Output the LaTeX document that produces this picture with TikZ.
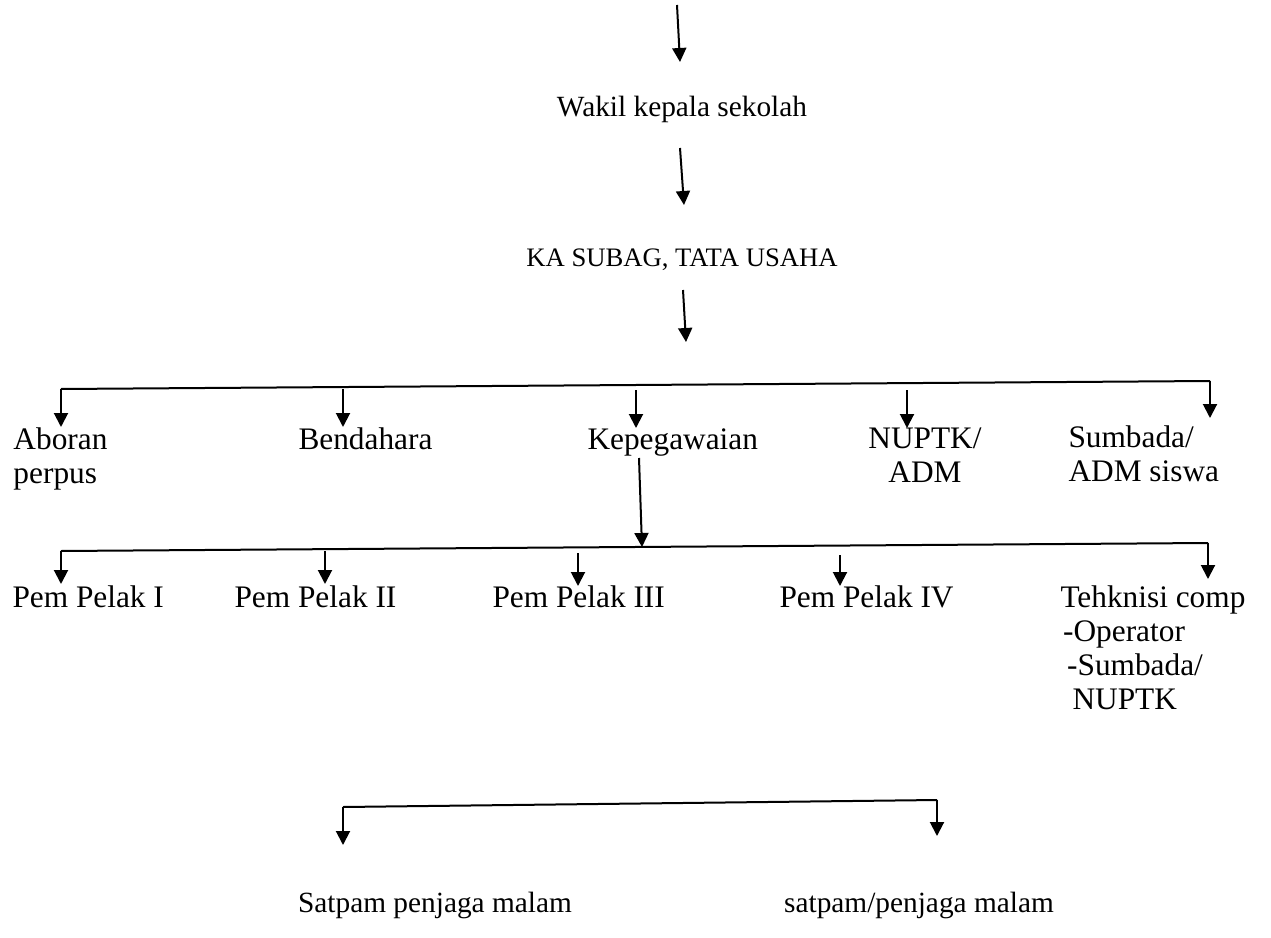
\documentclass[tikz,border=0pt]{standalone}
\usepackage{fontspec}
\setmainfont{Liberation Serif}
\usetikzlibrary{arrows.meta}

\tikzset{every picture/.style={line width=0.75pt}}
\tikzset{
  lbl/.style={anchor=base west, inner sep=0pt, align=left, font=\fontsize{#1}{25.5}\selectfont},
  lbl/.default=23.5,
  conn/.style={line width=1.5pt},
  arr/.style={conn, -{Triangle[length=10.5pt,width=10.5pt]}}
}

\begin{document}
\begin{tikzpicture}[x=0.75pt,y=0.75pt,yscale=-1,xscale=1]
\useasboundingbox (0,0) rectangle (1271,938);

% Text Node
\node[lbl=22, anchor=base] (wakil) at (682,117) {Wakil kepala sekolah};
% Text Node
\node[lbl=20, anchor=base] (kasubag) at (682,267) {KA SUBAG, TATA USAHA};
% Text Node
\node[lbl] (aboran) at (13,483) {Aboran\\perpus};
\node[lbl] (bendahara) at (298,449) {Bendahara};
\node[lbl] (kepeg) at (587,449) {Kepegawaian};
\node[lbl, align=center, anchor=base] (nuptk) at (925,482) {NUPTK/\\ADM};
\node[lbl] (sumbada) at (1068,481) {Sumbada/\\ADM siswa};
% Text Node
\node[lbl] (pem1) at (12,607) {Pem Pelak I};
\node[lbl] (pem2) at (234,607) {Pem Pelak II};
\node[lbl] (pem3) at (492,607) {Pem Pelak III};
\node[lbl] (pem4) at (779,607) {Pem Pelak IV};
\node[lbl] (tek) at (1060,709) {Tehknisi comp\\\hspace*{2pt}-Operator\\\hspace*{5pt}-Sumbada/\\\hspace*{9pt}NUPTK};
% Text Node
\node[lbl=22, anchor=base] (satpam1) at (435,912) {Satpam penjaga malam};
\node[lbl=22, anchor=base] (satpam2) at (919,912) {satpam/penjaga malam};

%Straight Lines - top
\coordinate (s0) at (677,5);    \coordinate (t0) at (680,62);
\coordinate (s1) at (680,148);  \coordinate (t1) at (684,205);
\coordinate (s2) at (683,290);  \coordinate (t2) at (686,342);
\draw[arr] (s0) -- (t0);
\draw[arr] (s1) -- (t1);
\draw[arr] (s2) -- (t2);

%Straight Lines - first bar
\coordinate (b1L) at (61,389);  \coordinate (b1R) at (1210,381);
\coordinate (b1La) at (61,427); \coordinate (b1Ra) at (1210,418);
\draw[conn] (b1L) -- (b1R);
\draw[arr] (b1L) -- (b1La);
\draw[arr] (b1R) -- (b1Ra);
\foreach \n/\x/\ya/\yb in {bend/343/389/427, kep/636/390/428, nup/907/390/428}
  {\coordinate (\n-s) at (\x,\ya); \coordinate (\n-t) at (\x,\yb);
   \draw[arr] (\n-s) -- (\n-t);}

%Straight Lines - kepegawaian down
\coordinate (kd-s) at (639,458); \coordinate (kd-t) at (642,547);
\draw[arr] (kd-s) -- (kd-t);

%Straight Lines - second bar
\coordinate (b2L) at (61,551);  \coordinate (b2R) at (1208,543);
\coordinate (b2La) at (61,584); \coordinate (b2Ra) at (1208,579);
\draw[conn] (b2L) -- (b2R);
\draw[arr] (b2L) -- (b2La);
\draw[arr] (b2R) -- (b2Ra);
\foreach \n/\x/\ya/\yb in {p2/325/551/584, p3/578/553/586, p4/840/555/586}
  {\coordinate (\n-s) at (\x,\ya); \coordinate (\n-t) at (\x,\yb);
   \draw[arr] (\n-s) -- (\n-t);}

%Straight Lines - third bar
\coordinate (b3L) at (343,807);  \coordinate (b3R) at (937,800);
\coordinate (b3La) at (343,845); \coordinate (b3Ra) at (937,836);
\draw[conn] (b3L) -- (b3R);
\draw[arr] (b3L) -- (b3La);
\draw[arr] (b3R) -- (b3Ra);

\end{tikzpicture}
\end{document}
